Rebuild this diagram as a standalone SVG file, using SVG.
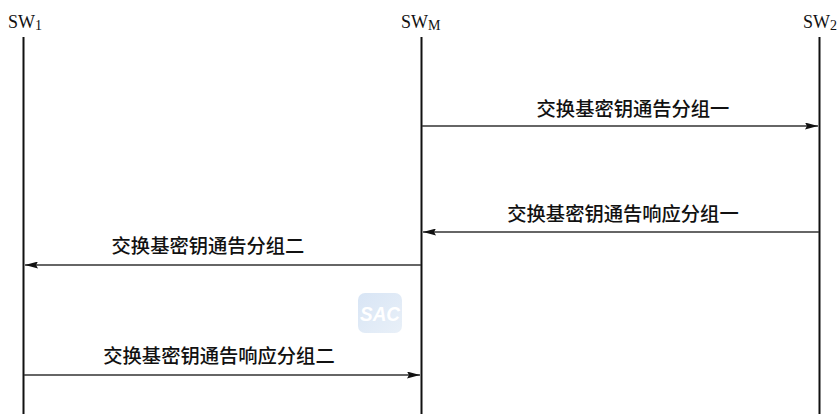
<svg xmlns="http://www.w3.org/2000/svg" width="837" height="414" viewBox="0 0 837 414">
<defs>
<style>
.life{stroke:#111;stroke-width:2;fill:none}
.msg{stroke:#333;stroke-width:1.6;fill:none}
.lbl{font-family:"Noto Sans CJK SC","Noto Sans",sans-serif;font-size:19.3px;font-weight:500;fill:#111;text-anchor:middle}
.sw{font-family:"Liberation Serif",serif;font-size:18px;fill:#111}
.sub{font-size:14px}
</style>
<marker id="ah" viewBox="0 0 13 7" refX="13" refY="3.5" markerWidth="13" markerHeight="7" markerUnits="userSpaceOnUse" orient="auto">
<path d="M0,0 L13,3.5 L0,7 L2,3.5 Z" fill="#111"/>
</marker>
<linearGradient id="sacg" x1="0" y1="0" x2="1" y2="1">
<stop offset="0" stop-color="#d8e5f5"/>
<stop offset="1" stop-color="#e9f0f8"/>
</linearGradient>
</defs>
<rect width="837" height="414" fill="#fff"/>
<g id="sw1">
<text class="sw" x="8" y="28">SW<tspan class="sub" dy="2">1</tspan></text>
<line class="life" x1="23.5" y1="37" x2="23.5" y2="414"/>
</g>
<g id="swm">
<text class="sw" x="401" y="28">SW<tspan class="sub" dy="2">M</tspan></text>
<line class="life" x1="421.5" y1="37" x2="421.5" y2="414"/>
</g>
<g id="sw2">
<text class="sw" x="803" y="28">SW<tspan class="sub" dy="2">2</tspan></text>
<line class="life" x1="819.5" y1="37" x2="819.5" y2="414"/>
</g>
<g id="watermark">
<rect x="358" y="293" width="44" height="40" rx="7" fill="url(#sacg)"/>
<text x="380" y="321" font-family="Liberation Sans,sans-serif" font-size="20" font-weight="bold" font-style="italic" fill="#fff" text-anchor="middle" textLength="40" lengthAdjust="spacingAndGlyphs">SAC</text>
</g>
<g id="connectors">
<line class="msg" x1="422" y1="126" x2="818" y2="126" marker-end="url(#ah)"/>
<text class="lbl" x="633" y="116">交换基密钥通告分组一</text>
<line class="msg" x1="819" y1="232" x2="423" y2="232" marker-end="url(#ah)"/>
<text class="lbl" x="623" y="221">交换基密钥通告响应分组一</text>
<line class="msg" x1="421" y1="265" x2="25" y2="265" marker-end="url(#ah)"/>
<text class="lbl" x="208" y="253">交换基密钥通告分组二</text>
<line class="msg" x1="24" y1="375" x2="420" y2="375" marker-end="url(#ah)"/>
<text class="lbl" x="219" y="363">交换基密钥通告响应分组二</text>
</g>
</svg>
